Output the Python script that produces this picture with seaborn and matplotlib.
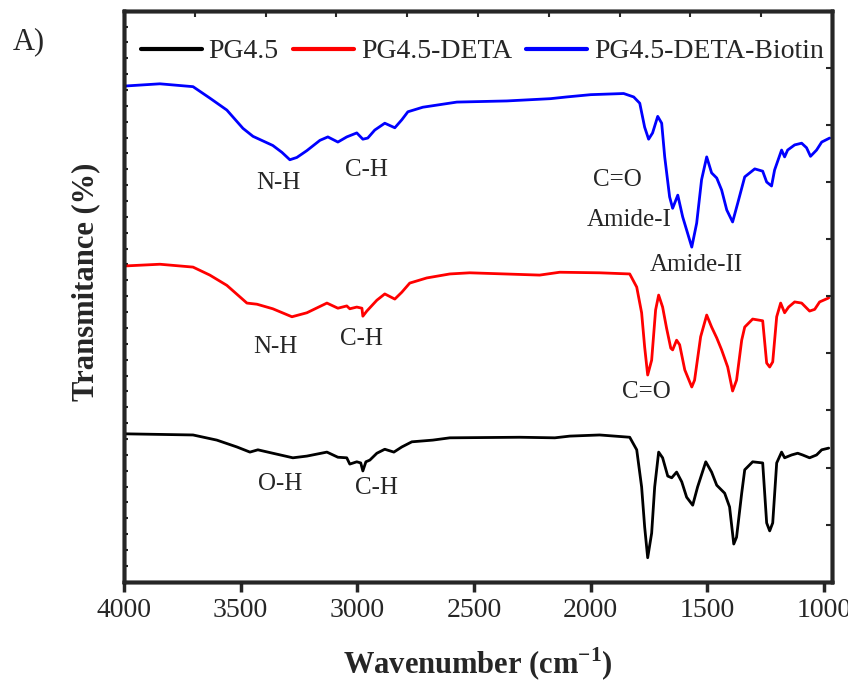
import numpy as np
import pandas as pd
import matplotlib
matplotlib.use("Agg")
import matplotlib.pyplot as plt
import seaborn as sns
from matplotlib.ticker import MultipleLocator

sns.set_style("white")
plt.rcParams['font.family'] = ['Liberation Serif', 'DejaVu Serif']
plt.rcParams['mathtext.fontset'] = 'custom'
plt.rcParams['mathtext.rm'] = 'Liberation Serif'
plt.rcParams['mathtext.bf'] = 'Liberation Serif:bold'

# FTIR spectra (wavenumber in cm-1, offset transmittance in a.u.)
wn_biotin = [4000, 3846, 3704, 3632, 3559, 3490, 3447, 3362, 3323, 3289, 3259, 3216, 3160, 3126,
             3083, 3045, 3002, 2976, 2955, 2925, 2882, 2839, 2809, 2783, 2719, 2573, 2359, 2171,
             2102, 1999, 1858, 1815, 1789, 1768, 1751, 1734, 1712, 1695, 1682, 1661, 1648, 1626,
             1605, 1566, 1545, 1524, 1502, 1481, 1459, 1438, 1416, 1391, 1369, 1339, 1296, 1262,
             1245, 1224, 1211, 1181, 1168, 1155, 1125, 1095, 1074, 1057, 1031, 1009, 975]
t_biotin = [86.8, 87.2, 86.7, 84.7, 82.6, 79.4, 78.0, 76.4, 75.2, 73.9, 74.3, 75.5, 77.3, 77.9,
            77.0, 77.9, 78.6, 77.5, 77.7, 79.1, 80.3, 79.5, 80.9, 82.3, 83.1, 84.0, 84.2, 84.6,
            84.9, 85.3, 85.5, 84.9, 83.8, 79.6, 77.5, 78.6, 81.5, 80.3, 74.4, 67.4, 65.4, 67.7,
            63.9, 58.6, 62.8, 70.4, 74.4, 71.6, 70.7, 68.6, 65.1, 63.0, 66.3, 70.9, 72.3, 71.9,
            70.0, 69.3, 72.1, 75.6, 74.4, 75.6, 76.5, 76.8, 76.0, 74.5, 75.6, 77.0, 77.7]

wn_deta = [3996, 3846, 3704, 3632, 3559, 3473, 3430, 3362, 3280, 3216, 3130, 3083, 3045, 3032,
           3002, 2980, 2976, 2959, 2916, 2882, 2839, 2809, 2775, 2702, 2603, 2518, 2218, 2132,
           1961, 1832, 1802, 1781, 1768, 1755, 1738, 1721, 1708, 1691, 1674, 1656, 1648, 1631,
           1618, 1596, 1566, 1554, 1528, 1502, 1481, 1459, 1438, 1412, 1391, 1374, 1352, 1339,
           1305, 1262, 1245, 1232, 1219, 1202, 1185, 1168, 1151, 1125, 1095, 1061, 1039, 1018, 979]
t_deta = [55.3, 55.6, 55.1, 53.7, 51.9, 48.8, 48.6, 47.8, 46.4, 47.1, 48.8, 47.9, 48.3, 47.8,
          48.1, 47.9, 46.5, 47.4, 49.3, 50.4, 49.5, 50.7, 52.3, 53.2, 53.9, 54.1, 53.7, 54.2,
          54.1, 53.9, 51.6, 47.1, 41.1, 36.2, 38.8, 47.6, 50.2, 48.1, 44.4, 40.9, 40.6, 42.3,
          41.5, 37.1, 34.1, 35.3, 42.9, 46.7, 44.6, 42.7, 40.6, 37.6, 33.4, 35.3, 42.3, 44.6,
          46.0, 45.7, 38.3, 37.6, 38.5, 46.4, 48.8, 47.1, 48.1, 49.0, 48.8, 47.4, 47.7, 49.0, 49.7]

wn_pg = [3996, 3704, 3602, 3516, 3460, 3426, 3362, 3276, 3216, 3130, 3083, 3045, 3032, 3002,
         2985, 2976, 2963, 2946, 2916, 2882, 2843, 2809, 2766, 2676, 2603, 2303, 2153, 2089,
         1961, 1832, 1802, 1781, 1768, 1755, 1738, 1725, 1708, 1691, 1669, 1652, 1631, 1609,
         1588, 1562, 1541, 1506, 1481, 1459, 1425, 1404, 1386, 1374, 1352, 1339, 1305, 1262,
         1245, 1232, 1219, 1202, 1181, 1168, 1138, 1112, 1091, 1061, 1031, 1009, 979]
t_pg = [25.9, 25.7, 24.8, 23.6, 22.7, 23.1, 22.5, 21.7, 22.0, 22.7, 21.8, 21.7, 20.6, 21.0,
        20.8, 19.4, 21.0, 21.3, 22.5, 23.2, 22.7, 23.6, 24.5, 24.8, 25.2, 25.3, 25.2, 25.5,
        25.7, 25.3, 23.1, 16.6, 9.6, 4.2, 8.5, 16.6, 22.7, 21.7, 18.5, 18.2, 19.2, 17.5,
        14.8, 13.4, 16.6, 21.0, 19.2, 16.9, 15.5, 13.1, 6.6, 7.8, 15.5, 19.6, 21.0, 20.8,
        10.3, 8.9, 10.3, 20.8, 22.7, 21.7, 22.2, 22.5, 22.2, 21.7, 22.2, 23.1, 23.4]

series = [("PG4.5", wn_pg, t_pg, "black"),
          ("PG4.5-DETA", wn_deta, t_deta, "red"),
          ("PG4.5-DETA-Biotin", wn_biotin, t_biotin, "blue")]

# peak labels: (text, wavenumber, transmittance)
labels = [("N-H", 3340, 69.8), ("C-H", 2959, 72.1), ("C=O", 1883, 70.3),
          ("Amide-I", 1836, 63.3), ("Amide-II", 1545, 55.4),
          ("N-H", 3353, 41.1), ("C-H", 2980, 42.5), ("C=O", 1759, 33.2),
          ("O-H", 3332, 17.1), ("C-H", 2916, 16.4)]

fig = plt.figure(figsize=(8.48, 6.83), dpi=100)
ax = fig.add_axes([0.1462, 0.1483, 0.8349, 0.836])

for name, wn, t, col in series:
    df = pd.DataFrame({"wn": wn, "t": t})
    sns.lineplot(data=df, x="wn", y="t", sort=False, estimator=None, color=col,
                 lw=2.0, label=name, ax=ax)

for txt, x, y in labels:
    ax.text(x, y, txt, fontsize=18, ha="center", va="center")

ax.set_xlim(4000, 965)
ax.set_ylim(0, 100)
ax.xaxis.set_major_locator(MultipleLocator(500))
ax.yaxis.set_major_locator(MultipleLocator(100 / 36))
ax.set_yticklabels([])
ax.tick_params(axis="x", direction="out", length=7, width=2.5, labelsize=20, pad=5)
ax.tick_params(axis="y", direction="in", length=3, width=1.5, left=True)
for s in ax.spines.values():
    s.set_linewidth(2.5)
    s.set_color("black")

ax.set_xlabel(r"Wavenumber (cm$^{\mathbf{-1}}$)", fontsize=22, fontweight="bold", labelpad=16)
ax.set_ylabel("Transmitance (%)", fontsize=22, fontweight="bold")
ax.yaxis.set_label_coords(-0.033, 0.525)

# top and right ticks
axt = ax.twiny()
axt.set_xlim(0, 10)
axt.xaxis.set_major_locator(MultipleLocator(1))
axt.tick_params(axis="x", direction="in", length=4, width=1.5, labeltop=False)
axr = ax.twinx()
axr.set_ylim(0, 100)
axr.yaxis.set_major_locator(MultipleLocator(10))
axr.tick_params(axis="y", direction="in", length=4, width=1.5, labelright=False)
for a in (axt, axr):
    for s in a.spines.values():
        s.set_linewidth(2.5)

ax.legend(loc="upper left", bbox_to_anchor=(0.0, 0.98), ncol=3, frameon=False, fontsize=20,
          handlelength=2.2, handletextpad=0.25, columnspacing=0.5, borderaxespad=0.2)
for line in ax.get_legend().get_lines():
    line.set_linewidth(3)

fig.text(0.015, 0.928, "A)", fontsize=22)

fig.savefig("out.png", dpi=100)
